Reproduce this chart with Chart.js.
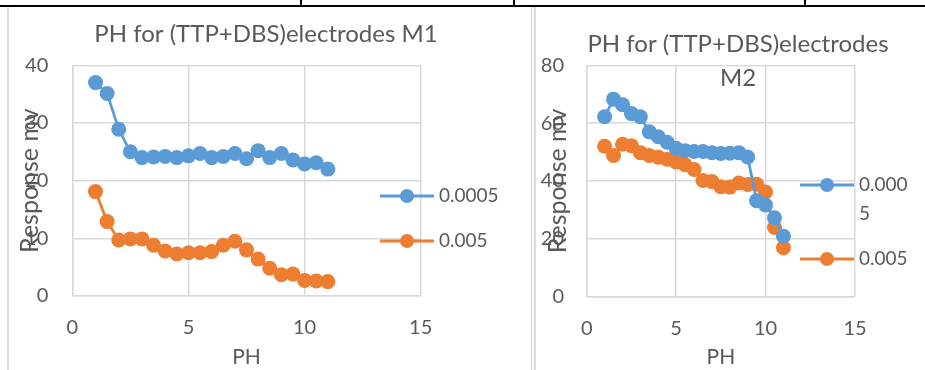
<!DOCTYPE html>
<html>
<head>
<meta charset="utf-8">
<title>PH response</title>
<script src="https://cdn.jsdelivr.net/npm/chart.js@4.4.1/dist/chart.umd.min.js"></script>
<style>
  body { margin: 0; background: #fff; width: 925px; height: 370px; overflow: hidden; position: relative; }
  canvas { position: absolute; }
  #chart-m1 { left: 8px; top: 8px; }
  #chart-m2 { left: 536px; top: 8px; }
  .rule { position: absolute; background: #000; }
  .frame { position: absolute; background: #d9d9d9; }
</style>
</head>
<body>
<!-- table rules around the two charts -->
<div class="rule" style="left:0;top:5px;width:925px;height:2px"></div>
<div class="rule" style="left:300px;top:0;width:2px;height:6px"></div>
<div class="rule" style="left:513px;top:0;width:2px;height:6px"></div>
<div class="rule" style="left:804px;top:0;width:2px;height:6px"></div>
<div class="frame" style="left:7px;top:7px;width:2px;height:363px"></div>
<div class="frame" style="left:531px;top:7px;width:1px;height:363px"></div>
<div class="frame" style="left:534px;top:7px;width:2px;height:363px"></div>

<canvas id="chart-m1" width="522" height="362"></canvas>
<canvas id="chart-m2" width="389" height="362"></canvas>

<script>
// pH values used for both membranes
var ph = [1, 1.5, 2, 2.5, 3, 3.5, 4, 4.5, 5, 5.5, 6, 6.5, 7, 7.5, 8, 8.5, 9, 9.5, 10, 10.5, 11];

// M1 response (mV)
var m1Low = [37.0, 35.1, 28.9, 25.0, 24.0, 24.1, 24.2, 24.0, 24.3, 24.7, 24.0, 24.2, 24.7, 23.8, 25.2, 24.0, 24.7, 23.6, 22.9, 23.1, 22.0];
var m1High = [18.1, 12.9, 9.7, 9.9, 9.9, 8.8, 7.8, 7.3, 7.5, 7.5, 7.7, 8.8, 9.5, 8.0, 6.4, 4.8, 3.7, 3.8, 2.7, 2.6, 2.5];

// M2 response (mV)
var m2Low = [62.2, 68.3, 66.4, 63.3, 62.2, 57.0, 55.3, 53.4, 51.3, 50.5, 50.2, 50.2, 49.8, 49.5, 49.6, 49.8, 48.3, 33.2, 31.7, 27.3, 20.9];
var m2High = [52.0, 48.8, 52.7, 52.2, 49.8, 48.8, 48.2, 47.5, 46.6, 45.6, 44.0, 40.2, 39.8, 38.0, 37.9, 39.3, 38.8, 38.9, 36.2, 23.9, 16.9];

var seriesLabels = ["0.0005", "0.005"];
var xTicks = [0, 5, 10, 15];
var m1YTicks = [0, 10, 20, 30, 40];
var m2YTicks = [0, 20, 40, 60, 80];

var blue = "#5b9bd5";
var orange = "#ed7d31";
var textColor = "#595959";
var gridColor = "#d9d9d9";
var fontFamily = "Lato, 'Open Sans', sans-serif";

function toPoints(xs, ys) {
  return xs.map(function(x, i) { return { x: x, y: ys[i] }; });
}

function makeDataset(label, values, color) {
  return {
    label: label,
    data: toPoints(ph, values),
    borderColor: color,
    backgroundColor: color,
    pointBackgroundColor: color,
    pointBorderColor: color,
    pointBorderWidth: 0,
    pointRadius: 7.5,
    borderWidth: 2.75,
    showLine: true,
    tension: 0
  };
}

// split text into lines no wider than maxWidth (char by char, like the Excel legend does)
function wrapText(ctx, text, maxWidth) {
  if (!maxWidth || ctx.measureText(text).width <= maxWidth) return [text];
  var lines = [], cur = "";
  for (var i = 0; i < text.length; i++) {
    if (cur && ctx.measureText(cur + text[i]).width > maxWidth) {
      lines.push(cur);
      cur = "";
    }
    cur += text[i];
  }
  lines.push(cur);
  return lines;
}

// chart title and legend sit on top of the plot area, so draw them by hand
var excelOverlay = {
  id: "excelOverlay",
  afterDraw: function(chart, args, opts) {
    var ctx = chart.ctx;
    ctx.save();
    ctx.fillStyle = textColor;
    ctx.font = opts.titleSize + "px " + fontFamily;
    ctx.textAlign = "center";
    ctx.textBaseline = "middle";
    opts.title.forEach(function(line, i) {
      ctx.fillText(line, opts.titleX, opts.titleY + i * opts.titleGap);
    });

    ctx.font = "19px " + fontFamily;
    chart.data.datasets.forEach(function(ds, i) {
      var y = opts.legendY[i];
      var x = opts.legendX;
      ctx.strokeStyle = ds.borderColor;
      ctx.lineWidth = 3;
      ctx.beginPath();
      ctx.moveTo(x, y);
      ctx.lineTo(x + 54, y);
      ctx.stroke();
      ctx.fillStyle = ds.borderColor;
      ctx.beginPath();
      ctx.arc(x + 27, y, 7, 0, Math.PI * 2);
      ctx.fill();

      ctx.fillStyle = textColor;
      ctx.textAlign = "left";
      wrapText(ctx, ds.label, opts.legendWidth).forEach(function(line, j) {
        ctx.fillText(line, x + 59, y + j * opts.legendGap);
      });
    });
    ctx.restore();
  }
};

function fixedSize(prop, size) {
  return function(scale) { scale[prop] = size; };
}

function makeOptions(cfg) {
  return {
    responsive: false,
    animation: false,
    layout: { padding: cfg.padding },
    plugins: {
      legend: { display: false },
      title: { display: false },
      tooltip: { enabled: false },
      excelOverlay: cfg.overlay
    },
    scales: {
      x: {
        type: "linear",
        min: xTicks[0],
        max: xTicks[xTicks.length - 1],
        afterBuildTicks: function(scale) {
          scale.ticks = xTicks.map(function(v) { return { value: v }; });
        },
        afterFit: fixedSize("height", cfg.xHeight),
        grid: { color: gridColor, lineWidth: 1.5, drawTicks: false },
        border: { color: gridColor, width: 1.5 },
        ticks: { color: textColor, font: { size: 20, family: fontFamily }, padding: cfg.xPad },
        title: { display: true, text: "PH", color: textColor, font: { size: 21, family: fontFamily }, padding: 0 }
      },
      y: {
        type: "linear",
        min: cfg.yTicks[0],
        max: cfg.yTicks[cfg.yTicks.length - 1],
        afterBuildTicks: function(scale) {
          scale.ticks = cfg.yTicks.map(function(v) { return { value: v }; });
        },
        afterFit: fixedSize("width", cfg.yWidth),
        grid: { color: gridColor, lineWidth: 1.5, drawTicks: false },
        border: { color: gridColor, width: 1.5 },
        ticks: { color: textColor, font: { size: 20, family: fontFamily }, padding: cfg.yPad },
        title: {
          display: true, text: "Response mv", color: textColor,
          font: { size: 25, family: fontFamily }, padding: { top: cfg.yTitlePad, bottom: 0 }
        }
      }
    }
  };
}

new Chart(document.getElementById("chart-m1").getContext("2d"), {
  type: "scatter",
  data: {
    datasets: [
      makeDataset(seriesLabels[0], m1Low, blue),
      makeDataset(seriesLabels[1], m1High, orange)
    ]
  },
  options: makeOptions({
    padding: { left: 0, top: 57.3, right: 109.3, bottom: 0 },
    yWidth: 64.3,
    xHeight: 74,
    yPad: 24,
    xPad: 19.3,
    yTitlePad: 7,
    yTicks: m1YTicks,
    overlay: {
      title: ["PH for (TTP+DBS)electrodes M1"],
      titleSize: 24, titleX: 258, titleY: 26, titleGap: 34,
      legendX: 372, legendY: [188, 233], legendWidth: 0, legendGap: 29
    }
  }),
  plugins: [excelOverlay]
});

new Chart(document.getElementById("chart-m2").getContext("2d"), {
  type: "scatter",
  data: {
    datasets: [
      makeDataset(seriesLabels[0], m2Low, blue),
      makeDataset(seriesLabels[1], m2High, orange)
    ]
  },
  options: makeOptions({
    padding: { left: 0, top: 57.3, right: 70, bottom: 0 },
    yWidth: 50.7,
    xHeight: 73.3,
    yPad: 22.7,
    xPad: 20.3,
    yTitlePad: 7,
    yTicks: m2YTicks,
    overlay: {
      title: ["PH for (TTP+DBS)electrodes", "M2"],
      titleSize: 24, titleX: 202, titleY: 36, titleGap: 34,
      legendX: 264, legendY: [177, 251], legendWidth: 55, legendGap: 29
    }
  }),
  plugins: [excelOverlay]
});
</script>
</body>
</html>
